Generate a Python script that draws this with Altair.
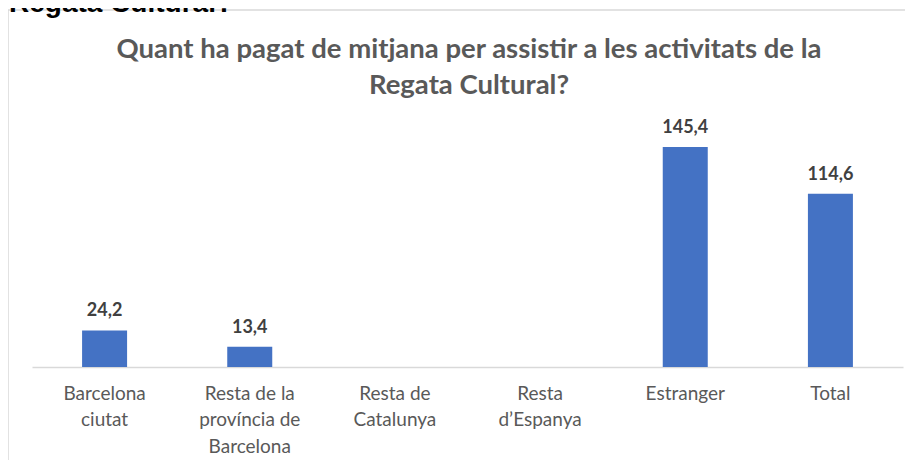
import altair as alt
import pandas as pd

categories = ["Barcelona\nciutat", "Resta de la\nprovíncia de\nBarcelona", "Resta de\nCatalunya",
              "Resta\nd\u2019Espanya", "Estranger", "Total"]
values = [24.2, 13.4, None, None, 145.4, 114.6]
value_labels = ["24,2", "13,4", "", "", "145,4", "114,6"]
title_lines = ["Quant ha pagat de mitjana per assistir a les activitats de la", "Regata Cultural?"]
outer_title = ["Regata Cultural?"]

df = pd.DataFrame({"categoria": categories, "valor": values, "etiqueta": value_labels})

x_enc = alt.X("categoria:N", sort=categories,
              scale=alt.Scale(domain=categories, paddingInner=0.69, paddingOuter=0.345),
              axis=alt.Axis(title=None, labelAngle=0, labelExpr="split(datum.label, '\\n')",
                            ticks=False, domainColor="#D9D9D9", domainWidth=1.5,
                            labelFont="Lato", labelFontSize=19, labelColor="#595959",
                            labelLineHeight=26.5, labelPadding=17, labelLimit=0))
y_enc = alt.Y("valor:Q", scale=alt.Scale(domain=[0, 160], nice=False), axis=None)

base = alt.Chart(df)

bars = base.mark_bar(color="#4472C4").encode(x=x_enc, y=y_enc).transform_filter("datum.valor != null")
labels = base.mark_text(font="Lato", fontSize=18, fontWeight="bold", color="#404040",
                        baseline="alphabetic", dy=-14).encode(
    x=x_enc, y=y_enc, text="etiqueta:N").transform_filter("datum.valor != null")

frame = alt.Chart(pd.DataFrame({"k": [0]})).mark_rect(fillOpacity=0, stroke="#D9D9D9", strokeWidth=1.5).encode(
    x=alt.value(-24), x2=alt.value(890), y=alt.value(-115), y2=alt.value(420))

top_text = alt.Chart(pd.DataFrame({"t": outer_title})).mark_text(
    font="Liberation Sans", fontSize=28, fontWeight="bold", color="#000000",
    align="left", baseline="alphabetic").encode(
    x=alt.value(-23), y=alt.value(-113), text="t:N")

title_text = alt.Chart(pd.DataFrame({"t": [title_lines]})).mark_text(
    font="Lato", fontSize=27.5, fontWeight="bold", color="#595959",
    align="center", baseline="alphabetic", lineHeight=36).encode(
    x=alt.value(437), y=alt.value(-67), text="t")

chart = alt.layer(frame, top_text, title_text, bars, labels).properties(
    width=871, height=242,
    autosize=alt.AutoSizeParams(type="none"),
    padding={"left": 24, "top": 117, "right": 2, "bottom": 93},
).configure_view(strokeWidth=0)

chart.save("out.html", embed_options={"renderer": "svg", "actions": False})
